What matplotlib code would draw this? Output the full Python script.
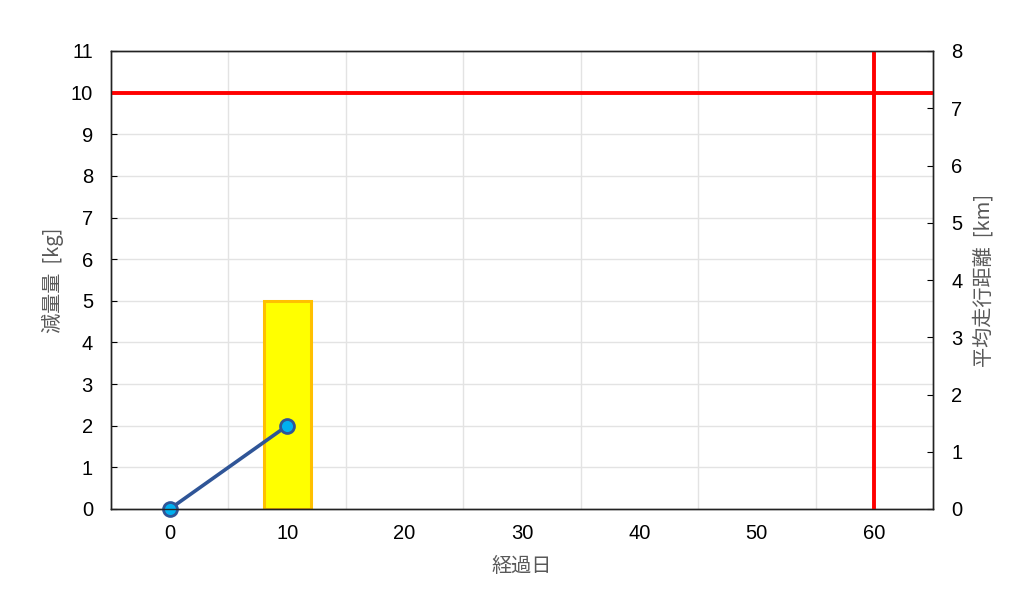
import matplotlib
matplotlib.use('Agg')
import matplotlib.pyplot as plt

plt.rcParams['font.family'] = ['Liberation Sans', 'Noto Sans CJK JP', 'DejaVu Sans']

# data
days = [0, 10]
weight_loss = [0, 2]
bar_days = [10]
bar_values = [5]
target_loss = 10
goal_day = 60
x_ticks = [0, 10, 20, 30, 40, 50, 60]
x_grid = [5, 15, 25, 35, 45, 55]
left_ticks = list(range(0, 12))
right_ticks = list(range(0, 9))

fig = plt.figure(figsize=(10.24, 6.02), dpi=100)
ax = fig.add_axes([111 / 1024, 93 / 602, 822 / 1024, 458 / 602])
ax2 = ax.twinx()

ax.set_xlim(-5, 65)
ax.set_ylim(0, 11)
ax2.set_ylim(0, 8)

# grid
for g in x_grid:
    ax.axvline(g, color='#e3e3e3', lw=1, zorder=0)
for t in left_ticks[1:-1]:
    ax.axhline(t, color='#e3e3e3', lw=1, zorder=0)

ax.bar(bar_days, bar_values, width=4, color='#ffff00', edgecolor='#ffc000',
       linewidth=2.2, zorder=2)
ax.plot(days, weight_loss, '-o', color='#2f5597', lw=2.6, ms=10,
        mfc='#00b0f0', mec='#2f5597', mew=2, zorder=4, clip_on=False)
ax.axhline(target_loss, color='#ff0000', lw=2.8, zorder=3)
ax.axvline(goal_day, color='#ff0000', lw=2.8, zorder=3)

ax.set_xticks(x_ticks)
ax.set_yticks(left_ticks)
ax2.set_yticks(right_ticks)
ax.tick_params(axis='x', length=0, labelsize=14.5, pad=11)
ax.tick_params(axis='y', direction='in', length=4, labelsize=14.5, pad=13)
ax2.tick_params(axis='y', direction='in', length=4, labelsize=14.5, pad=13)

for a in (ax, ax2):
    for s in a.spines.values():
        s.set_color('#222222')
        s.set_linewidth(1)

lab_font = ['Noto Sans CJK JP', 'DejaVu Sans']
ax.set_xlabel('経過日', fontsize=14.5, color='#595959', family=lab_font, labelpad=9)
ax.set_ylabel('減量量  [kg]', fontsize=14.5, color='#595959', family=lab_font, labelpad=5)
ax2.set_ylabel('平均走行距離  [km]', fontsize=14.5, color='#595959', family=lab_font,
               rotation=90, labelpad=8)

fig.savefig('out.png', dpi=100)
